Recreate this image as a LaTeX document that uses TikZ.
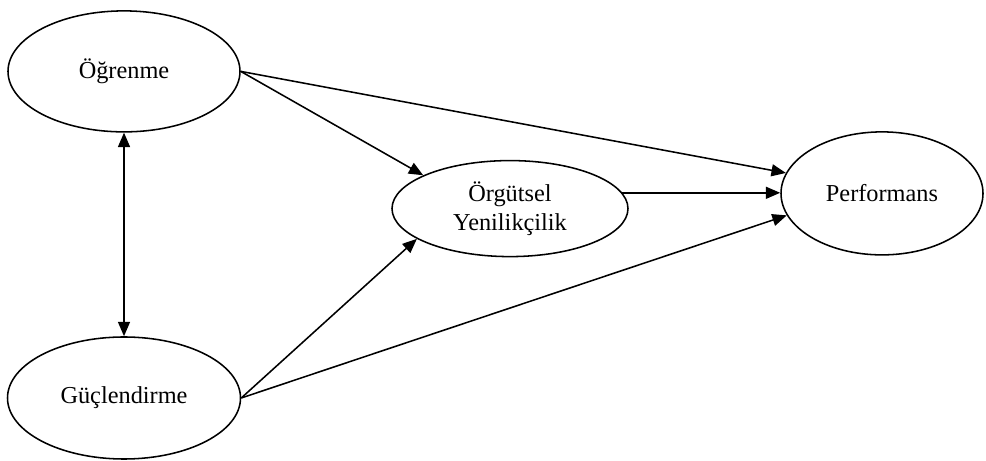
\documentclass[tikz,border=0pt]{standalone}
\usepackage{fontspec}
\setmainfont{Liberation Serif}
\usetikzlibrary{shapes.geometric,arrows.meta}

\tikzset{
  construct/.style={draw, ellipse, line width=1.1pt, align=center, inner sep=0pt,
    font=\fontsize{17.3}{21}\selectfont},
  path/.style={line width=1.1pt, -{Triangle[length=0.36cm,width=0.3cm]}},
  mutual/.style={line width=1.1pt, {Triangle[length=0.36cm,width=0.3cm]}-{Triangle[length=0.36cm,width=0.3cm]}},
}

\begin{document}
\begin{tikzpicture}

    \useasboundingbox (0,0) rectangle (24.65,11.525);

    \node[construct, minimum width=5.8cm, minimum height=3.025cm] (ogr) at (3.1, 9.74) {Öğrenme};
    \node[construct, minimum width=5.825cm, minimum height=3.05cm] (guc) at (3.1, 1.575) {Güçlendirme};
    \node[construct, minimum width=5.9cm, minimum height=2.4cm] (yen) at (12.75, 6.31) {Örgütsel\\Yenilikçilik};
    \node[construct, minimum width=5.05cm, minimum height=3.075cm] (perf) at (22.05, 6.69) {Performans};

    \draw [mutual] (ogr.south) to (guc.north);
    \draw [path] (ogr.east) to (yen.159);
    \draw [path] (ogr.east) to (perf.168);
    \draw [path] (guc.east) to (yen.198);
    \draw [path] (guc.east) to (perf.193);
    \draw [path] (yen.8) to (yen.8 -| perf.west);

\end{tikzpicture}
\end{document}
